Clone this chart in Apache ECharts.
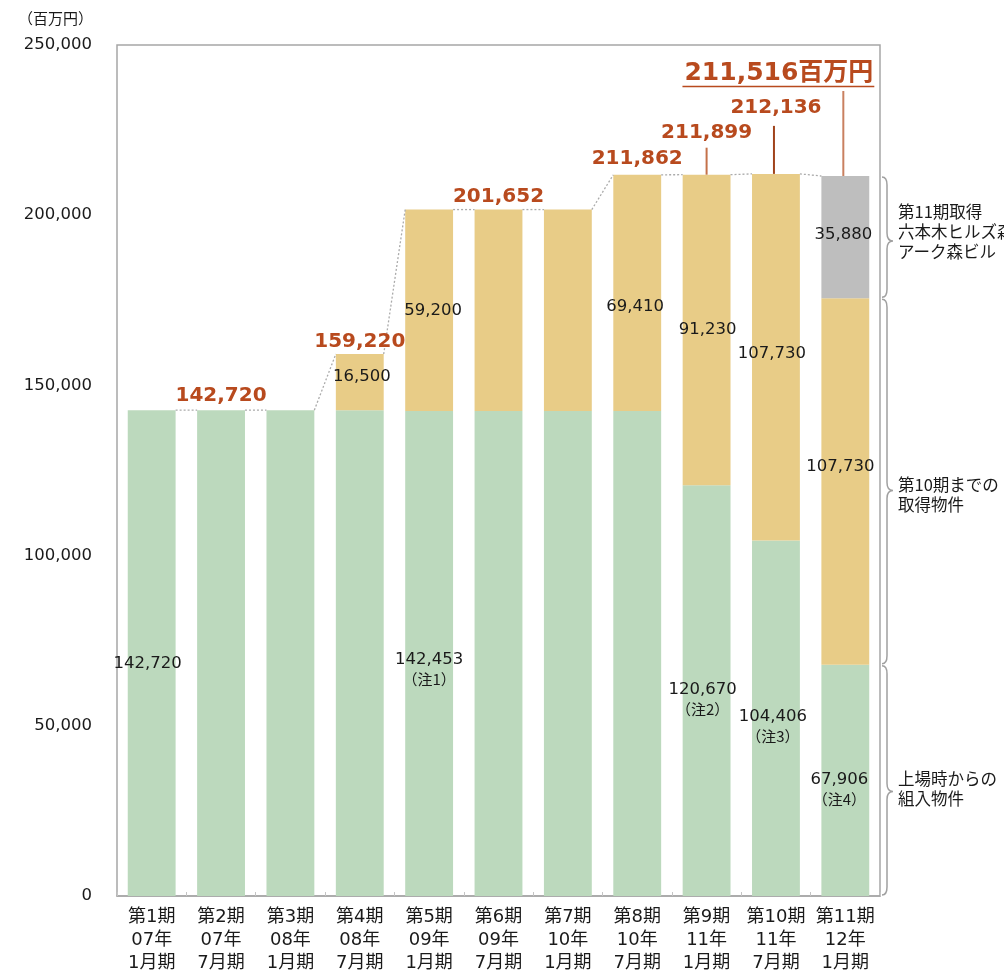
<!DOCTYPE html>
<html>
<head>
<meta charset="utf-8">
<script src="https://cdn.jsdelivr.net/npm/echarts@6/dist/echarts.min.js"></script>
<style>
  html, body { margin: 0; padding: 0; background: #fff; }
  #chart { width: 1004px; height: 975px; }
</style>
</head>
<body>
<div id="chart"></div>
<script>
// ---- data -------------------------------------------------------------
const categories = [
  '第1期\n07年\n1月期', '第2期\n07年\n7月期', '第3期\n08年\n1月期', '第4期\n08年\n7月期',
  '第5期\n09年\n1月期', '第6期\n09年\n7月期', '第7期\n10年\n1月期', '第8期\n10年\n7月期',
  '第9期\n11年\n1月期', '第10期\n11年\n7月期', '第11期\n12年\n1月期'
];
// properties held since listing (百万円)
const initialAssets = [142720, 142720, 142720, 142720, 142453, 142453, 142453, 142453, 120670, 104406, 67906];
// properties acquired up to period 10
const acquiredToP10 = [0, 0, 0, 16500, 59200, 59200, 59200, 69410, 91230, 107730, 107730];
// acquired in period 11 (六本木ヒルズ森タワー / アーク森ビル)
const acquiredP11 = [0, 0, 0, 0, 0, 0, 0, 0, 0, 0, 35880];
// portfolio totals as stated
const totals = [142720, 142720, 142720, 159220, 201652, 201652, 201652, 211862, 211899, 212136, 211516];
const greenNotes = ['', '', '', '', '（注1）', '', '', '', '（注2）', '（注3）', '（注4）'];
const greenLabelAt = [0, 4, 8, 9, 10];
const yellowLabelAt = [3, 4, 7, 8, 9, 10];
const grayLabelAt = [10];
const totalUnit = '百万円';
const yAxisUnit = '（百万円）';
const yMin = 0, yMax = 250000, yStep = 50000;
const bracketTexts = ['上場時からの\n組入物件', '第10期までの\n取得物件', '第11期取得\n六本木ヒルズ森タワー\nアーク森ビル'];

// ---- styling / layout --------------------------------------------------
const NUM_FONT = '"DejaVu Sans", "Noto Sans CJK JP", sans-serif';
const TEXT_FONT = '"Noto Sans CJK JP", "DejaVu Sans", sans-serif';
const INK = '#1a1a1a';
const TOTAL_COLOR = '#B84A1E';
const FRAME = '#A6A6A6';
const BAR_RATIO = 0.69;

const greenLabelOffset = { 0: [-4, 11], 4: [0, 16], 8: [-4, 9], 9: [-3, 8], 10: [-6, 9] };
const yellowLabelOffset = { 3: [2, -5], 4: [4, 0], 7: [-2, 14], 8: [1, 0], 9: [-4, -4], 10: [-5, -15] };
const grayLabelOffset = { 10: [-2, -2] };

// where the stated totals sit above each bar
const totalLabelLayout = {
  1: { lift: 14 },
  3: { lift: 12 },
  5: { lift: 13 },
  7: { lift: 16 },
  8: { lift: 42, leader: { dx: 0, gap: 15, color: '#C4714A' } },
  9: { lift: 66, leader: { dx: -2, gap: 18, color: '#A0431B' } },
  10: { lift: 102, size: 25, unit: true, align: 'right', dx: 28, underline: 12.5,
        leader: { dx: -2, gap: 17, color: '#C98060' } }
};
const bracketTipShift = [11, 9, 4];
const bracketTextShift = [8, 13, -5];

const fmt = v => Number(v).toLocaleString('en-US');

const measureCtx = document.createElement('canvas').getContext('2d');
function textWidth(text, font) { measureCtx.font = font; return measureCtx.measureText(text).width; }

function labelled(values, at, offsets) {
  return values.map((v, i) => at.includes(i)
    ? { value: v, label: { show: true, offset: offsets[i] || [0, 0] } }
    : v);
}

// totals above the bars, leader lines and dotted series lines between bar tops
function renderTotals(params, api) {
  const i = api.value(0);
  const t = api.value(1);
  const bw = api.size([1, 0])[0] * BAR_RATIO;
  const p = api.coord([i, t]);
  const kids = [];
  if (i < totals.length - 1) {
    const q = api.coord([i + 1, totals[i + 1]]);
    kids.push({
      type: 'line',
      shape: { x1: p[0] + bw / 2, y1: p[1], x2: q[0] - bw / 2, y2: q[1] },
      style: { stroke: '#ABABAB', lineWidth: 1.3, lineDash: [2, 2] }
    });
  }
  const lay = totalLabelLayout[i];
  if (lay) {
    const size = lay.size || 20;
    const text = fmt(t) + (lay.unit ? totalUnit : '');
    const tx = p[0] + (lay.dx || 0);
    const ty = p[1] - lay.lift;
    const font = `bold ${size}px ${NUM_FONT}`;
    kids.push({
      type: 'text', x: tx, y: ty,
      style: {
        text, fill: TOTAL_COLOR, fontSize: size, fontWeight: 'bold', fontFamily: NUM_FONT,
        align: lay.align || 'center', verticalAlign: 'middle'
      }
    });
    if (lay.underline) {
      const w = textWidth(text, font);
      kids.push({
        type: 'line',
        shape: { x1: tx - w - 2, y1: ty + lay.underline, x2: tx + 1, y2: ty + lay.underline },
        style: { stroke: TOTAL_COLOR, lineWidth: 1.6 }
      });
    }
    if (lay.leader) {
      const lx = p[0] + lay.leader.dx;
      kids.push({
        type: 'line',
        shape: { x1: lx, y1: ty + lay.leader.gap, x2: lx, y2: p[1] },
        style: { stroke: lay.leader.color, lineWidth: 2 }
      });
    }
  }
  return { type: 'group', children: kids };
}

// curly brackets to the right of the last bar, one per segment
function renderBrackets(params, api) {
  const i = api.value(0), lo = api.value(1), hi = api.value(2), k = api.value(3);
  const cw = api.size([1, 0])[0];
  const x0 = api.coord([i, lo])[0] + cw / 2 + 2;
  const yB = api.coord([i, lo])[1] - 1;
  const yT = api.coord([i, hi])[1] + 1;
  const ym = (yT + yB) / 2 + bracketTipShift[k];
  const xm = x0 + 5, xt = x0 + 11;
  const d = `M${x0},${yT} C${x0 + 4},${yT} ${xm},${yT + 3} ${xm},${yT + 8} ` +
            `L${xm},${ym - 8} C${xm},${ym - 3} ${xm + 2},${ym} ${xt},${ym} ` +
            `C${xm + 2},${ym} ${xm},${ym + 3} ${xm},${ym + 8} ` +
            `L${xm},${yB - 8} C${xm},${yB - 3} ${x0 + 4},${yB} ${x0},${yB}`;
  return {
    type: 'group',
    children: [
      { type: 'path', shape: { pathData: d }, style: { fill: 'none', stroke: '#A0A0A0', lineWidth: 1.5 } },
      {
        type: 'text', x: x0 + 16, y: (yT + yB) / 2 + bracketTextShift[k],
        style: {
          text: bracketTexts[k], fill: INK, fontSize: 16.5, fontFamily: TEXT_FONT,
          lineHeight: 20, align: 'left', verticalAlign: 'middle'
        }
      }
    ]
  };
}

const last = categories.length - 1;
const s1 = initialAssets[last];
const s2 = s1 + acquiredToP10[last];
const s3 = s2 + acquiredP11[last];
const bracketData = [[last, 0, s1, 0], [last, s1, s2, 1], [last, s2, s3, 2]];

const numLabel = { position: 'inside', color: INK, fontFamily: NUM_FONT, fontSize: 16, textBorderWidth: 0 };

const chart = echarts.init(document.getElementById('chart'));
chart.setOption({
  animation: false,
  backgroundColor: '#fff',
  grid: { left: 117, right: 124, top: 45, bottom: 78, show: true, borderColor: FRAME, borderWidth: 1.5 },
  xAxis: {
    type: 'category',
    data: categories,
    axisLine: { show: true, lineStyle: { color: FRAME, width: 1.5 } },
    axisTick: { show: true, inside: true, length: 4, lineStyle: { color: '#C4C4C4' } },
    axisLabel: { interval: 0, margin: 10, fontSize: 18, lineHeight: 23, color: INK, fontFamily: NUM_FONT }
  },
  yAxis: {
    type: 'value',
    min: yMin, max: yMax, interval: yStep,
    name: yAxisUnit,
    nameLocation: 'end',
    nameGap: 27,
    nameTextStyle: { align: 'right', verticalAlign: 'middle', padding: [0, 24, 0, 0], fontSize: 15, color: INK, fontFamily: TEXT_FONT },
    axisLine: { show: false },
    axisTick: { show: false },
    splitLine: { show: false },
    axisLabel: { margin: 25, formatter: v => fmt(v), fontSize: 16.5, color: INK, fontFamily: NUM_FONT }
  },
  series: [
    {
      name: '上場時からの組入物件', type: 'bar', stack: 'total', barWidth: (BAR_RATIO * 100) + '%',
      itemStyle: { color: '#BCD9BD' },
      label: Object.assign({}, numLabel, {
        show: false,
        formatter: p => greenNotes[p.dataIndex]
          ? `{v|${fmt(p.value)}}\n{n|${greenNotes[p.dataIndex]}}`
          : `{v|${fmt(p.value)}}`,
        rich: {
          v: { color: INK, fontFamily: NUM_FONT, fontSize: 16.5, lineHeight: 20 },
          n: { color: INK, fontFamily: TEXT_FONT, fontSize: 15, lineHeight: 20 }
        }
      }),
      data: labelled(initialAssets, greenLabelAt, greenLabelOffset)
    },
    {
      name: '第10期までの取得物件', type: 'bar', stack: 'total',
      itemStyle: { color: '#E8CC87' },
      label: Object.assign({}, numLabel, { show: false, fontSize: 16.5, formatter: p => fmt(p.value) }),
      data: labelled(acquiredToP10, yellowLabelAt, yellowLabelOffset)
    },
    {
      name: '第11期取得', type: 'bar', stack: 'total',
      itemStyle: { color: '#BEBEBE' },
      label: Object.assign({}, numLabel, { show: false, fontSize: 16.5, formatter: p => fmt(p.value) }),
      data: labelled(acquiredP11, grayLabelAt, grayLabelOffset)
    },
    {
      type: 'custom', renderItem: renderTotals, silent: true, z: 10,
      encode: { x: 0, y: 1 },
      data: totals.map((t, i) => [i, t])
    },
    {
      type: 'custom', renderItem: renderBrackets, silent: true, z: 10,
      encode: { x: 0, y: [1, 2] },
      data: bracketData
    }
  ]
});
</script>
</body>
</html>
